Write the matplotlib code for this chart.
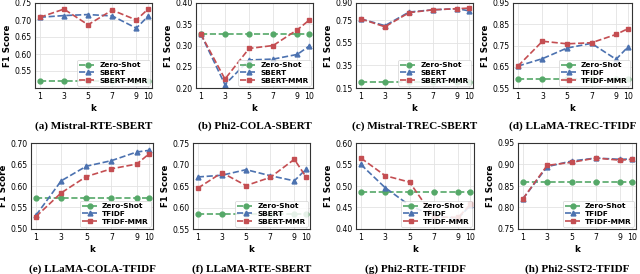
import matplotlib
matplotlib.use("Agg")
import matplotlib.pyplot as plt

plt.rcParams.update({
    "font.family": "DejaVu Sans",
    "font.size": 5.6,
    "axes.edgecolor": "#333333",
    "axes.linewidth": 0.8,
    "grid.color": "#e3e3e3",
    "grid.linewidth": 0.6,
    "xtick.major.size": 0,
    "ytick.major.size": 0,
    "xtick.major.pad": 3,
    "ytick.major.pad": 2.5,
})

GREEN = "#55a868"
BLUE = "#4c72b0"
RED = "#c44e52"

K = [1, 3, 5, 7, 9, 10]

# (a) Mistral-RTE-SBERT
a_zero = [0.522] * 6
a_ret = [0.708, 0.713, 0.716, 0.712, 0.676, 0.712]
a_mmr = [0.708, 0.732, 0.686, 0.729, 0.700, 0.733]
# (b) Phi2-COLA-SBERT
b_zero = [0.327] * 6
b_ret = [0.327, 0.208, 0.266, 0.268, 0.279, 0.299]
b_mmr = [0.327, 0.221, 0.293, 0.300, 0.337, 0.360]
# (c) Mistral-TREC-SBERT
c_zero = [0.200] * 6
c_ret = [0.760, 0.700, 0.820, 0.840, 0.850, 0.830]
c_mmr = [0.760, 0.690, 0.815, 0.840, 0.850, 0.855]
# (d) LLaMA-TREC-TFIDF
d_zero = [0.594] * 6
d_ret = [0.653, 0.688, 0.738, 0.760, 0.685, 0.745]
d_mmr = [0.653, 0.770, 0.758, 0.763, 0.802, 0.830]
# (e) LLaMA-COLA-TFIDF
e_zero = [0.573] * 6
e_ret = [0.532, 0.612, 0.646, 0.659, 0.679, 0.683]
e_mmr = [0.529, 0.584, 0.622, 0.640, 0.651, 0.675]
# (f) LLaMA-RTE-SBERT
f_zero = [0.585] * 6
f_ret = [0.671, 0.675, 0.688, 0.674, 0.662, 0.690]
f_mmr = [0.645, 0.681, 0.651, 0.670, 0.712, 0.670]
# (g) Phi2-RTE-TFIDF
g_zero = [0.487] * 6
g_ret = [0.550, 0.496, 0.455, 0.430, 0.425, 0.455]
g_mmr = [0.565, 0.524, 0.509, 0.428, 0.427, 0.457]
# (h) Phi2-SST2-TFIDF
h_zero = [0.859] * 6
h_ret = [0.820, 0.895, 0.908, 0.915, 0.912, 0.913]
h_mmr = [0.820, 0.898, 0.905, 0.915, 0.910, 0.912]

panels = [
    # caption, retriever, zero, ret, mmr, yticks, ylim, (left, right, top, bottom) in px
    ("(a) Mistral-RTE-SBERT", "SBERT", a_zero, a_ret, a_mmr,
     [0.55, 0.60, 0.65, 0.70, 0.75], (0.50, 0.75), (35, 152, 3, 88)),
    ("(b) Phi2-COLA-SBERT", "SBERT", b_zero, b_ret, b_mmr,
     [0.20, 0.25, 0.30, 0.35, 0.40], (0.20, 0.40), (196, 313, 3, 88)),
    ("(c) Mistral-TREC-SBERT", "SBERT", c_zero, c_ret, c_mmr,
     [0.15, 0.35, 0.55, 0.75, 0.90], (0.15, 0.90), (356, 473, 3, 88)),
    ("(d) LLaMA-TREC-TFIDF", "TFIDF", d_zero, d_ret, d_mmr,
     [0.55, 0.65, 0.75, 0.85, 0.95], (0.55, 0.95), (513, 632, 3, 88)),
    ("(e) LLaMA-COLA-TFIDF", "TFIDF", e_zero, e_ret, e_mmr,
     [0.50, 0.55, 0.60, 0.65, 0.70], (0.50, 0.70), (31, 153, 143, 229)),
    ("(f) LLaMA-RTE-SBERT", "SBERT", f_zero, f_ret, f_mmr,
     [0.55, 0.60, 0.65, 0.70, 0.75], (0.55, 0.75), (193, 310, 143, 229)),
    ("(g) Phi2-RTE-TFIDF", "TFIDF", g_zero, g_ret, g_mmr,
     [0.40, 0.45, 0.50, 0.55, 0.60], (0.40, 0.60), (356, 474, 143, 229)),
    ("(h) Phi2-SST2-TFIDF", "TFIDF", h_zero, h_ret, h_mmr,
     [0.75, 0.80, 0.85, 0.90, 0.95], (0.75, 0.95), (518, 636, 143, 229)),
]

W, H = 640, 274
fig = plt.figure(figsize=(W / 100, H / 100), dpi=100)

for cap, name, zero, ret, mmr, yt, yl, (l, r, t, b) in panels:
    ax = fig.add_axes([l / W, 1 - b / H, (r - l) / W, (b - t) / H])
    ax.plot(K, zero, "--", color=GREEN, marker="o", markersize=3.5, lw=1.2, label="Zero-Shot")
    ax.plot(K, ret, "--", color=BLUE, marker="^", markersize=3.5, lw=1.2, label=name)
    ax.plot(K, mmr, "--", color=RED, marker="s", markersize=3.5, lw=1.2, label=name + "-MMR")
    ax.set_xticks(K)
    ax.set_xlim(0.6, 10.3)
    ax.set_yticks(yt)
    ax.set_yticklabels([f"{v:.2f}" for v in yt])
    ax.set_ylim(*yl)
    ax.grid(True)
    ax.set_xlabel("k", fontweight="bold", fontsize=6.2, labelpad=2)
    ax.set_ylabel("F1 Score", fontweight="bold", fontsize=6.2, labelpad=1.5)
    leg = ax.legend(loc="lower right", prop={"weight": "bold", "size": 5.3},
                    handlelength=2.2, borderpad=0.3, labelspacing=0.2,
                    handletextpad=0.5, borderaxespad=0.3, framealpha=0.85)
    leg.get_frame().set_linewidth(0.5)
    cy = 126 if t < 100 else 269
    fig.text((l + r) / 2 / W, 1 - cy / H, cap, ha="center", va="center",
             family="Liberation Serif", fontweight="bold", fontsize=8)

fig.savefig("out.png", dpi=100)
